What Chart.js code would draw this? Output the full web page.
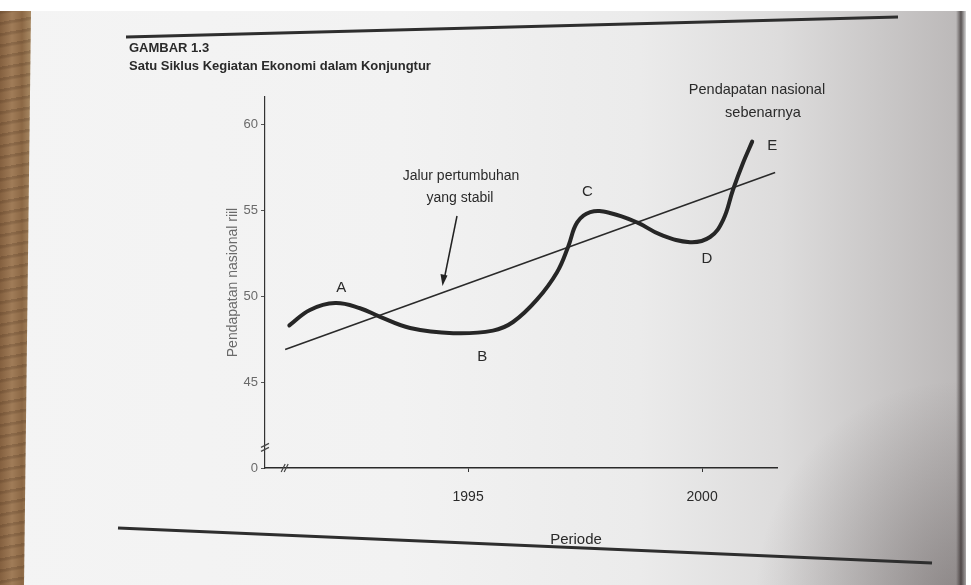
<!DOCTYPE html>
<html>
<head>
<meta charset="utf-8">
<script src="https://cdn.jsdelivr.net/npm/chart.js@4.4.1/dist/chart.umd.min.js"></script>
<style>
  html, body { margin: 0; padding: 0; }
  body { width: 971px; height: 585px; overflow: hidden; background: #ffffff; position: relative; }
  #paper {
    position: absolute; left: 0; top: 11px; width: 966px; height: 574px;
    background:
      radial-gradient(ellipse 200px 220px at 955px 590px, rgba(50,40,40,0.35), rgba(50,40,40,0) 100%),
      linear-gradient(to right, #f4f4f4 0, #f2f2f2 400px, #ebebeb 640px, #dddcdc 780px, #cac8c8 880px, #bcb9b9 956px, #5a5454 961px, #d8d8d8 966px);
  }
  #wood {
    position: absolute; left: 0; top: 11px; width: 34px; height: 574px;
    clip-path: polygon(0 0, 31px 0, 24px 100%, 0 100%);
    background:
      repeating-linear-gradient(170deg, rgba(70,45,25,0.22) 0, rgba(70,45,25,0.22) 2px, rgba(0,0,0,0) 4px, rgba(0,0,0,0) 11px),
      linear-gradient(to right, #84603f 0, #a07c58 12px, #8c6845 22px, #a98a64 31px);
  }
  #wrap { position: absolute; left: 0; top: 0; width: 971px; height: 585px; }
</style>
</head>
<body>
<div id="paper"></div>
<div id="wood"></div>
<div id="wrap"><canvas id="cycleChart" width="971" height="585"></canvas></div>
<script>
// Satu Siklus Kegiatan Ekonomi dalam Konjungtur

const actualYears = [1991.18, 1991.62, 1992.16, 1992.69, 1993.12, 1993.76, 1994.68, 1995.53,
                     1995.96, 1996.47, 1996.90, 1997.14, 1997.33, 1997.61, 1998.03, 1998.61,
                     1999.10, 1999.74, 2000.17, 2000.45, 2000.66, 2000.88, 2001.07];
const actualValues = [48.3, 49.2, 49.6, 49.3, 48.8, 48.15, 47.85, 48.0,
                      48.5, 49.8, 51.4, 52.9, 54.3, 54.9, 54.85, 54.3,
                      53.6, 53.15, 53.45, 54.45, 56.2, 57.8, 59.0];

// stable growth path (straight line)
const trendYears = [1991.09, 2001.56];
const trendValues = [46.9, 57.2];

const xTicks = [1995, 2000];
const yTicks = [40, 45, 50, 55, 60];
const yTickLabels = { 40: '0', 45: '45', 50: '50', 55: '55', 60: '60' };

// point labels on the curve
const pointLabels = ['A', 'B', 'C', 'D', 'E'];
const pointLabelYears = [1992.29, 1995.3, 1997.55, 2000.1, 2001.5];
const pointLabelValues = [50.5, 46.45, 56.05, 52.15, 58.75];

const SANS = '"Liberation Sans", Arial, sans-serif';

const toPoints = (xs, ys) => xs.map((x, i) => ({ x: x, y: ys[i] }));

const decorations = {
    id: 'decorations',
    beforeDraw(chart) {
        const c = chart.ctx;
        c.save();
        // page rules
        c.strokeStyle = '#2e2e2e';
        c.lineWidth = 3;
        c.beginPath(); c.moveTo(126, 37); c.lineTo(898, 17); c.stroke();
        c.beginPath(); c.moveTo(118, 528); c.lineTo(932, 563); c.stroke();
        c.restore();
    },
    afterDraw(chart) {
        const c = chart.ctx;
        const xs = chart.scales.x, ys = chart.scales.y;
        const area = chart.chartArea;
        c.save();

        // headings
        c.fillStyle = '#2a2a2a';
        c.textBaseline = 'middle';
        c.textAlign = 'left';
        c.font = 'bold 13px ' + SANS;
        c.fillText('GAMBAR 1.3', 129, 48);
        c.fillText('Satu Siklus Kegiatan Ekonomi dalam Konjungtur', 129, 66);

        // axis breaks
        c.strokeStyle = '#444';
        c.lineWidth = 1.2;
        const yb = ys.getPixelForValue(41.2);
        for (const d of [-2, 2]) {
            c.beginPath(); c.moveTo(area.left - 4, yb + d + 2); c.lineTo(area.left + 4, yb + d - 2); c.stroke();
        }
        const xb = xs.getPixelForValue(1991.08);
        for (const d of [-1.5, 1.5]) {
            c.beginPath(); c.moveTo(xb + d - 2, area.bottom + 4); c.lineTo(xb + d + 2, area.bottom - 4); c.stroke();
        }

        // point letters
        c.fillStyle = '#2a2a2a';
        c.textAlign = 'center';
        c.font = '15px ' + SANS;
        pointLabels.forEach((t, i) => {
            c.fillText(t, xs.getPixelForValue(pointLabelYears[i]), ys.getPixelForValue(pointLabelValues[i]));
        });

        // text notes
        c.font = '14px ' + SANS;
        c.fillText('Jalur pertumbuhan', 461, 176);
        c.fillText('yang stabil', 460, 198);
        c.font = '14.5px ' + SANS;
        c.fillText('Pendapatan nasional', 757, 90);
        c.fillText('sebenarnya', 763, 113);
        c.font = '15px ' + SANS;
        c.fillText('Periode', 576, 540);

        // arrow to the trend line
        c.strokeStyle = '#222';
        c.lineWidth = 1.5;
        c.beginPath(); c.moveTo(457, 216); c.lineTo(444, 280); c.stroke();
        c.beginPath();
        c.moveTo(442.5, 286); c.lineTo(440.5, 274); c.lineTo(447.5, 275.5); c.closePath();
        c.fillStyle = '#222';
        c.fill();
        c.restore();
    }
};

new Chart(document.getElementById('cycleChart'), {
    type: 'scatter',
    data: {
        datasets: [
            {
                label: 'Pendapatan nasional sebenarnya',
                data: toPoints(actualYears, actualValues),
                showLine: true,
                borderColor: '#262626',
                borderWidth: 4,
                pointRadius: 0,
                tension: 0.4,
                borderCapStyle: 'round'
            },
            {
                label: 'Jalur pertumbuhan yang stabil',
                data: toPoints(trendYears, trendValues),
                showLine: true,
                borderColor: '#2a2a2a',
                borderWidth: 1.6,
                pointRadius: 0
            }
        ]
    },
    options: {
        responsive: false,
        animation: false,
        layout: { padding: { left: 225, right: 194, top: 97, bottom: 57 } },
        plugins: {
            legend: { display: false },
            tooltip: { enabled: false }
        },
        scales: {
            x: {
                type: 'linear',
                min: 1990.66,
                max: 2001.6,
                afterBuildTicks: (s) => { s.ticks = xTicks.map(v => ({ value: v })); },
                afterFit: (s) => { s.height = 60; },
                grid: { drawOnChartArea: false, drawTicks: true, tickLength: 4, color: '#333' },
                border: { display: true, color: '#2a2a2a', width: 1.5 },
                ticks: {
                    color: '#2a2a2a',
                    padding: 17,
                    font: { family: SANS, size: 14 },
                    callback: (v) => String(v)
                }
            },
            y: {
                type: 'linear',
                min: 40,
                max: 61.6,
                afterBuildTicks: (s) => { s.ticks = yTicks.map(v => ({ value: v })); },
                afterFit: (s) => { s.width = 40; },
                grid: { drawOnChartArea: false, drawTicks: true, tickLength: 4, color: '#555' },
                border: { display: true, color: '#333', width: 1.2 },
                title: {
                    display: true,
                    text: 'Pendapatan nasional riil',
                    color: '#6a6a6a',
                    font: { family: SANS, size: 14 },
                    padding: { top: 0, bottom: 6 }
                },
                ticks: {
                    color: '#6a6a6a',
                    padding: 3,
                    font: { family: SANS, size: 13 },
                    callback: (v) => yTickLabels[v]
                }
            }
        }
    },
    plugins: [decorations]
});
</script>
</body>
</html>
